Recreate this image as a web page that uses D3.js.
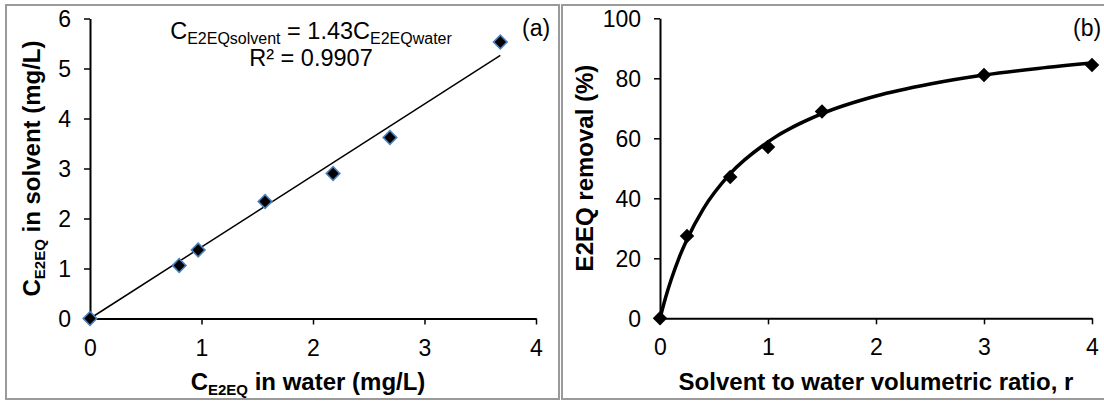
<!DOCTYPE html>
<html>
<head>
<meta charset="utf-8">
<script src="https://cdn.jsdelivr.net/npm/d3@7/dist/d3.min.js"></script>
<style>
  html, body { margin: 0; padding: 0; background: #fff; }
  svg { display: block; font-family: "Liberation Sans", Arial, sans-serif; }
</style>
</head>
<body>
<svg id="chart" width="1104" height="403"></svg>
<script>
// ---------- Data: panel (a) ----------
const waterConc   = [0, 0.80, 0.97, 1.57, 2.18, 2.69, 3.68];
const solventConc = [0, 1.06, 1.37, 2.34, 2.90, 3.62, 5.53];
const trendSlope  = 1.43;
const aXTicks = [0, 1, 2, 3, 4];
const aYTicks = [0, 1, 2, 3, 4, 5, 6];

// ---------- Data: panel (b) ----------
const ratioR     = [0, 0.25, 0.65, 1.0, 1.5, 3.0, 4.0];
const removalPct = [0, 27.4, 47.1, 57.1, 68.9, 81.1, 84.4];
// fitted curve
const curveR   = [0, 0.05, 0.1, 0.18, 0.25, 0.4, 0.65, 1.0, 1.5, 2.0, 2.5, 3.0, 3.5, 4.0];
const curveE   = [0, 6.7, 12.5, 20.5, 26.3, 36.4, 48.2, 58.8, 68.2, 74.1, 78.1, 81.1, 83.3, 85.1];
const bXTicks = [0, 1, 2, 3, 4];
const bYTicks = [0, 20, 40, 60, 80, 100];

const svg = d3.select("#chart");

// frames
svg.append("rect").attr("x", 6).attr("y", 5).attr("width", 553).attr("height", 394)
  .attr("fill", "none").attr("stroke", "#9a9a9a").attr("stroke-width", 2);
svg.append("rect").attr("x", 562).attr("y", 5).attr("width", 560).attr("height", 394)
  .attr("fill", "none").attr("stroke", "#9a9a9a").attr("stroke-width", 2);

const tickFont = 23;

function drawAxes(g, x, y, xTicks, yTicks) {
  const xa = g.append("g").attr("transform", `translate(0,${y.range()[0]})`)
    .call(d3.axisBottom(x).tickValues(xTicks).tickSize(6).tickSizeOuter(0).tickPadding(10).tickFormat(d3.format("d")));
  const ya = g.append("g").attr("transform", `translate(${x.range()[0]},0)`)
    .call(d3.axisLeft(y).tickValues(yTicks).tickSize(6).tickSizeOuter(0).tickPadding(13).tickFormat(d3.format("d")));
  [xa, ya].forEach(a => {
    a.select(".domain").attr("stroke", "#000").attr("stroke-width", 2);
    a.selectAll(".tick line").attr("stroke", "#000").attr("stroke-width", 1.5);
    a.selectAll(".tick text").attr("fill", "#000").style("font-size", tickFont + "px")
      .style("font-family", "'Liberation Sans', Arial, sans-serif");
  });
  xa.selectAll(".tick text").attr("dy", null).attr("y", 0).attr("transform", "translate(0,37)");
  ya.selectAll(".tick text").attr("dy", "0.35em");
}

const diamond = d3.symbol().type(d3.symbolSquare);

// ---------- Panel (a) ----------
const xa = d3.scaleLinear().domain([0, 4]).range([90, 536]);
const ya = d3.scaleLinear().domain([0, 6]).range([318.5, 18.5]);
const ga = svg.append("g");
drawAxes(ga, xa, ya, aXTicks, aYTicks);

const xMax = d3.max(waterConc);
ga.append("line")
  .attr("x1", xa(0)).attr("y1", ya(0))
  .attr("x2", xa(xMax)).attr("y2", ya(trendSlope * xMax))
  .attr("stroke", "#000").attr("stroke-width", 1.5);

ga.selectAll("path.pt").data(waterConc.map((v, i) => [v, solventConc[i]]))
  .enter().append("path").attr("class", "pt")
  .attr("d", diamond.size(92)())
  .attr("transform", d => `translate(${xa(d[0])},${ya(d[1])}) rotate(45)`)
  .attr("fill", "#000").attr("stroke", "#4f81bd").attr("stroke-width", 1.6);

// equation
const eq = ga.append("text").attr("x", 311).attr("y", 39).attr("text-anchor", "middle")
  .style("font-size", "23.5px").attr("fill", "#000");
eq.append("tspan").text("C");
eq.append("tspan").attr("dy", 5).style("font-size", "16px").text("E2EQsolvent");
eq.append("tspan").attr("dy", -5).text(" = 1.43C");
eq.append("tspan").attr("dy", 5).style("font-size", "16px").text("E2EQwater");
ga.append("text").attr("x", 311).attr("y", 66).attr("text-anchor", "middle")
  .style("font-size", "23.5px").attr("fill", "#000").text("R² = 0.9907");
ga.append("text").attr("x", 522).attr("y", 36).style("font-size", "23px").text("(a)");

// axis titles (a)
const xta = ga.append("text").attr("x", 308).attr("y", 390).attr("text-anchor", "middle")
  .style("font-size", "24px").style("font-weight", "bold");
xta.append("tspan").text("C");
xta.append("tspan").attr("dy", 5).style("font-size", "15px").text("E2EQ");
xta.append("tspan").attr("dy", -5).text(" in water (mg/L)");

const yta = ga.append("text").attr("transform", "translate(40,168.5) rotate(-90)").attr("text-anchor", "middle")
  .style("font-size", "24px").style("font-weight", "bold");
yta.append("tspan").text("C");
yta.append("tspan").attr("dy", 5).style("font-size", "15px").text("E2EQ");
yta.append("tspan").attr("dy", -5).text(" in solvent (mg/L)");

// ---------- Panel (b) ----------
const xb = d3.scaleLinear().domain([0, 4]).range([660, 1092]);
const yb = d3.scaleLinear().domain([0, 100]).range([318.3, 18.3]);
const gb = svg.append("g");
drawAxes(gb, xb, yb, bXTicks, bYTicks);

const line = d3.line().x(d => xb(d[0])).y(d => yb(d[1])).curve(d3.curveMonotoneX);
gb.append("path").datum(curveR.map((v, i) => [v, curveE[i]]))
  .attr("d", line).attr("fill", "none").attr("stroke", "#000").attr("stroke-width", 3.5);

gb.selectAll("path.pt").data(ratioR.map((v, i) => [v, removalPct[i]]))
  .enter().append("path").attr("class", "pt")
  .attr("d", diamond.size(105)())
  .attr("transform", d => `translate(${xb(d[0])},${yb(d[1])}) rotate(45)`)
  .attr("fill", "#000");

gb.append("text").attr("x", 1073).attr("y", 36).style("font-size", "23px").text("(b)");

gb.append("text").attr("x", 876).attr("y", 390).attr("text-anchor", "middle")
  .style("font-size", "24px").style("font-weight", "bold")
  .text("Solvent to water volumetric ratio, r");
gb.append("text").attr("transform", "translate(593,168) rotate(-90)").attr("text-anchor", "middle")
  .style("font-size", "24px").style("font-weight", "bold")
  .text("E2EQ removal (%)");
</script>
</body>
</html>
